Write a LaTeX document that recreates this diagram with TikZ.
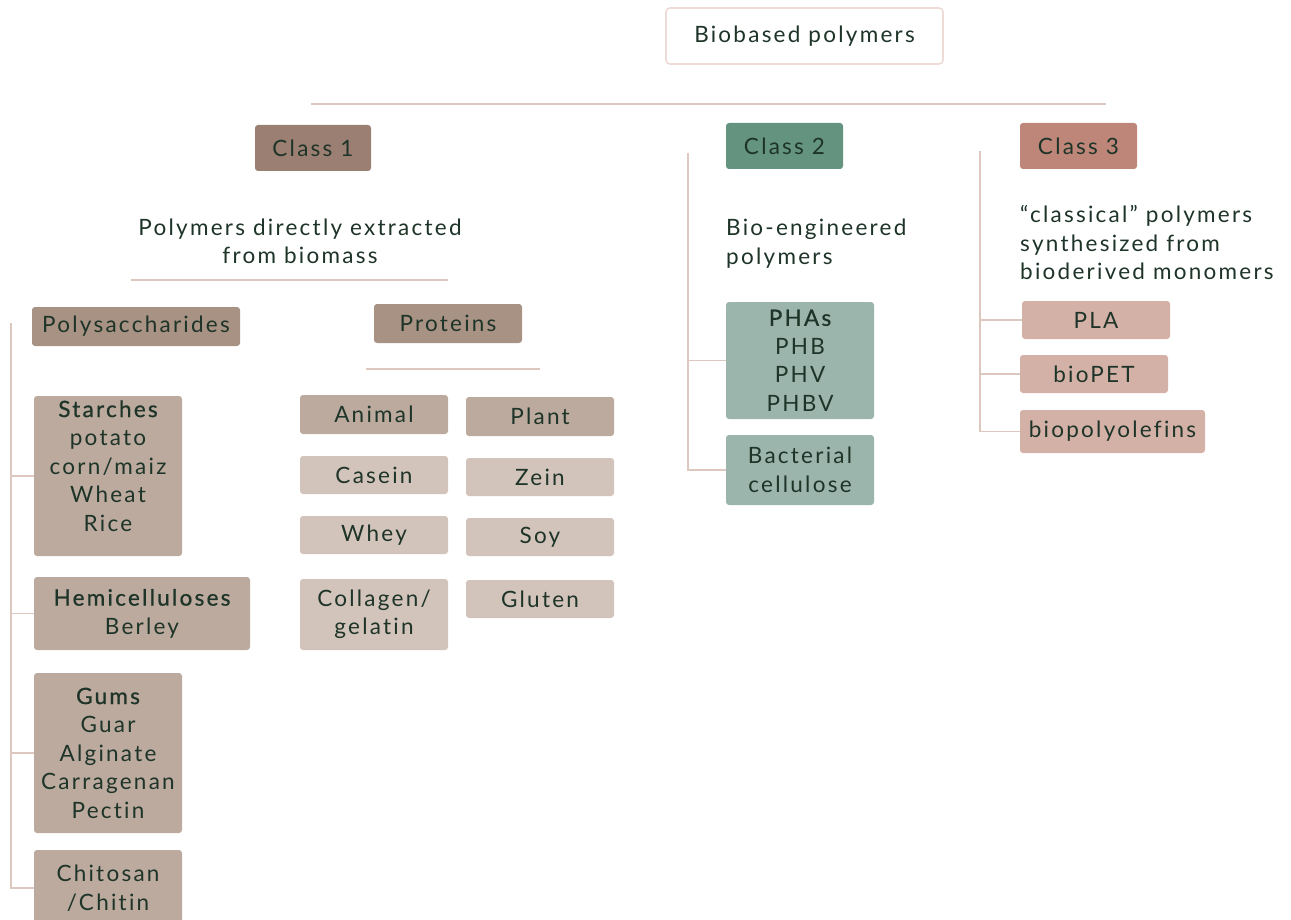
\documentclass[tikz,border=0pt]{standalone}
\usepackage{fontspec}
\setmainfont{Lato}[LetterSpace=10,Ligatures=NoCommon]
\newfontfamily\hdfont{Lato}[LetterSpace=10,Ligatures=NoCommon,FakeBold=0.8]
\definecolor{ink}{HTML}{1E3428}
\definecolor{wire}{HTML}{DCC8BF}
\definecolor{rootline}{HTML}{ECDCD5}
\definecolor{clsA}{HTML}{9B7F72}
\definecolor{clsB}{HTML}{64937F}
\definecolor{clsC}{HTML}{BE8679}
\definecolor{grpA}{HTML}{A89284}
\definecolor{midA}{HTML}{BCAA9E}
\definecolor{lowA}{HTML}{D3C4BB}
\definecolor{lowB}{HTML}{9BB5AC}
\definecolor{lowC}{HTML}{D4B1A7}
\tikzset{
  txt/.style={text=ink, font=\fontsize{22.5}{28.5}\selectfont, align=center, inner sep=0pt},
  tag/.style={txt, rounded corners=3pt, draw=none},
  cls1/.style={tag, fill=clsA},
  cls2/.style={tag, fill=clsB},
  cls3/.style={tag, fill=clsC},
  grp/.style={tag, fill=grpA},
  mid/.style={tag, fill=midA},
  low/.style={tag, fill=lowA},
  green/.style={tag, fill=lowB},
  pink/.style={tag, fill=lowC},
  wireline/.style={draw=wire, line width=1.4pt},
  desc/.style={txt}
}
\newcommand{\bx}[7]{% style, name, x0, y0, x1, y1, text
  \node[#1, minimum width={#5-#3}, minimum height={#6-#4}] (#2) at ({(#3+#5)/2},{(#4+#6)/2}) {#7};}
\begin{document}
\begin{tikzpicture}[x=1pt, y=-1pt]
\useasboundingbox (0,0) rectangle (1291,920);

% root
\node[txt, draw=rootline, line width=1.6pt, fill=white, rounded corners=4pt,
      minimum width=277, minimum height=56] (root) at (804.5,36) {Biobased polymers};
\coordinate (barL) at (311,104);
\coordinate (barR) at (1106,104);
\draw[wireline] (barL) -- (barR);

% classes
\bx{cls1}{c1}{255}{125}{371}{171}{Class 1}
\bx{cls2}{c2}{726}{123}{843}{169}{Class 2}
\bx{cls3}{c3}{1020}{123}{1137}{169}{Class 3}

% class 1: extracted from biomass
\node[desc] (d1) at (300,241.5) {Polymers directly extracted\\from biomass};
\coordinate (d1L) at (131,280);
\coordinate (d1R) at (448,280);
\draw[wireline] (d1L) -- (d1R);

\bx{grp}{poly}{32}{307}{240}{346}{Polysaccharides}
\bx{grp}{prot}{374}{304}{522}{343}{Proteins}
\coordinate (prL) at (366,369);
\coordinate (prR) at (540,369);
\draw[wireline] (prL) -- (prR);

\bx{mid}{starch}{34}{396}{182}{556}{{\hdfont Starches}\\potato\\corn/maiz\\Wheat\\Rice\\[-8pt]\mbox{}}
\bx{mid}{hemi}{34}{577}{250}{650}{{\hdfont Hemicelluloses}\\Berley}
\bx{mid}{gums}{34}{673}{182}{833}{{\hdfont Gums}\\Guar\\Alginate\\Carragenan\\Pectin}
\bx{mid}{chit}{34}{850}{182}{926}{Chitosan\\/Chitin}

\coordinate (v1) at (11,323);
\draw[wireline] (v1) |- (chit.west);
\draw[wireline] (v1) |- (starch.west);
\draw[wireline] (v1) |- (hemi.west);
\draw[wireline] (v1) |- (gums.west);

\bx{mid}{animal}{300}{395}{448}{434}{Animal}
\bx{mid}{plant}{466}{397}{614}{436}{Plant}
\bx{low}{casein}{300}{456}{448}{494}{Casein}
\bx{low}{zein}{466}{458}{614}{496}{Zein}
\bx{low}{whey}{300}{516}{448}{554}{Whey}
\bx{low}{soy}{466}{518}{614}{556}{Soy}
\bx{low}{coll}{300}{579}{448}{650}{Collagen/\\gelatin}
\bx{low}{gluten}{466}{580}{614}{618}{Gluten}

% class 2: bio-engineered
\node[desc, align=left, anchor=west] (d2) at (726,243.5) {Bio-engineered\\polymers};
\bx{green}{pha}{726}{302}{874}{419}{{\hdfont PHAs}\\PHB\\PHV\\PHBV}
\bx{green}{bact}{726}{435}{874}{505}{Bacterial\\cellulose}
\coordinate (v2) at (688,153);
\draw[wireline] (v2) |- (bact.west);
\draw[wireline] (v2) |- (pha.west);

% class 3: classical polymers
\node[desc, align=left, anchor=west] (d3) at (1020,242.5) {“classical” polymers\\synthesized from\\bioderived monomers};
\bx{pink}{pla}{1022}{301}{1170}{339}{PLA}
\bx{pink}{pet}{1020}{355}{1168}{393}{bioPET}
\bx{pink}{pol}{1020}{410}{1205}{453}{biopolyolefins}
\coordinate (v3) at (980,151);
\draw[wireline] (v3) |- (pol.west);
\draw[wireline] (v3) |- (pla.west);
\draw[wireline] (v3) |- (pet.west);
\end{tikzpicture}
\end{document}
